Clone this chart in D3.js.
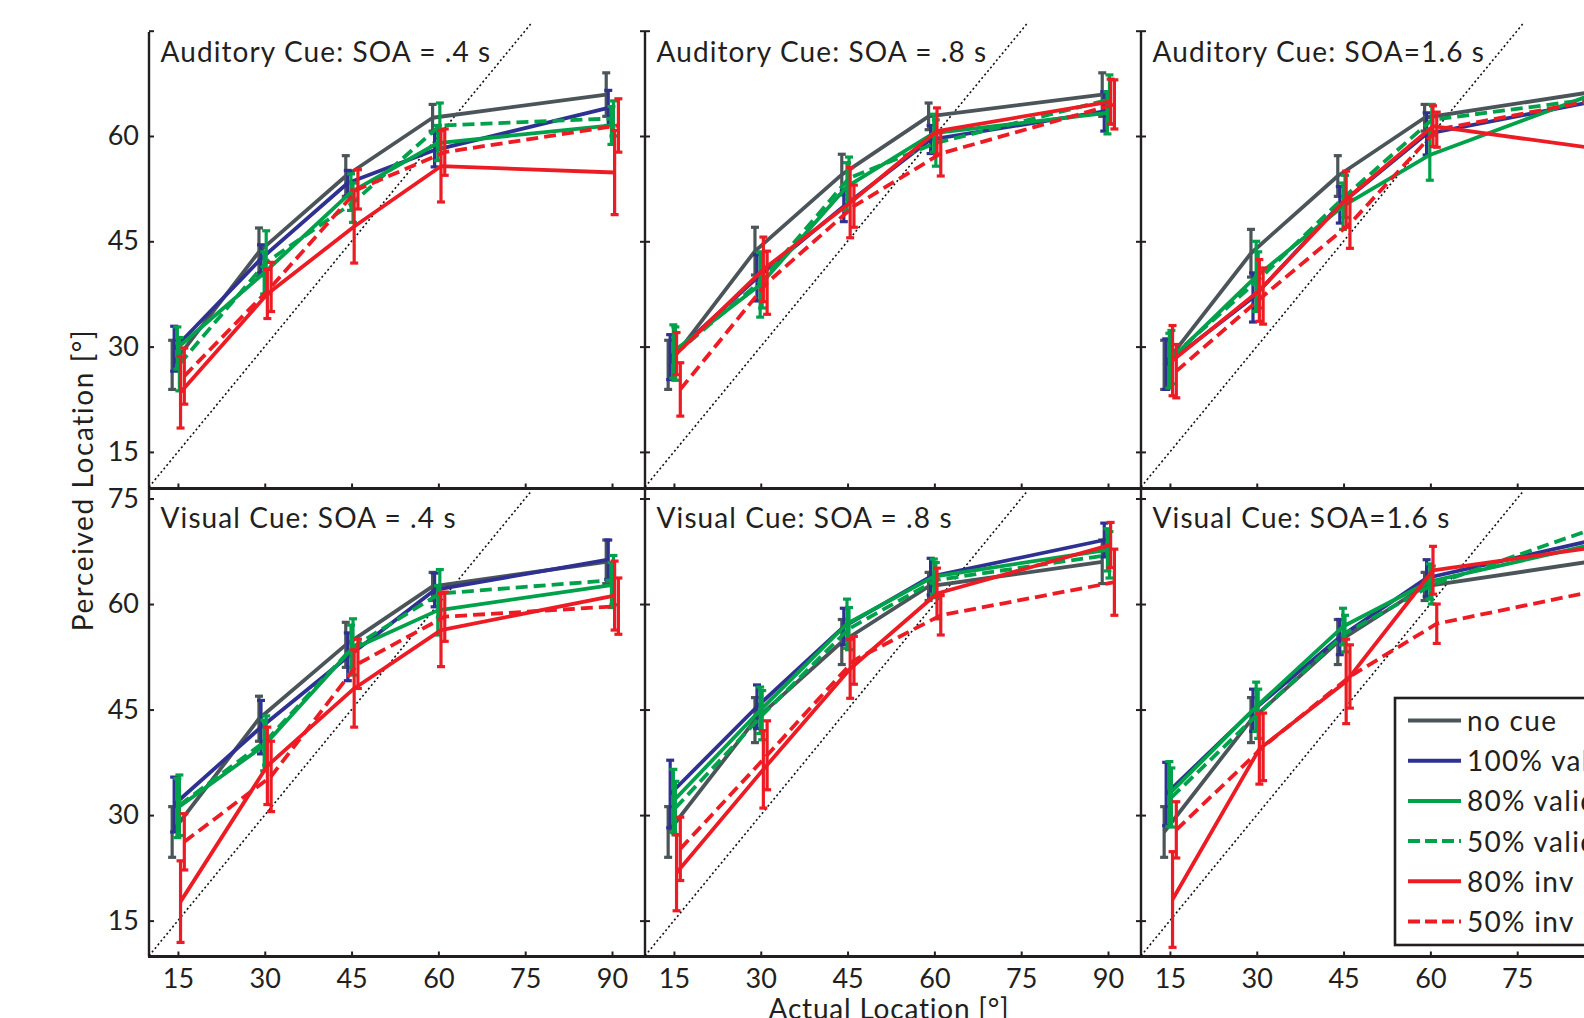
<!DOCTYPE html>
<html><head><meta charset="utf-8">
<script src="https://cdn.jsdelivr.net/npm/d3@7"></script>
<style>
html,body{margin:0;padding:0;background:#fff;overflow:hidden}
text{font-family:Lato,"Open Sans",sans-serif;fill:#231f20}
</style></head><body>
<svg id="chart" width="1584" height="1018"></svg>
<script>
// ---------------- data ----------------
const xValues = [15, 30, 45, 60, 90];
const xTicks = [15, 30, 45, 60, 75, 90];
const yTicks = [15, 30, 45, 60, 75];
const seriesNames = ["no cue", "100% valid", "80% valid", "50% valid", "80% inv", "50% inv"];
const panelTitles = [
  "Auditory Cue: SOA = .4 s", "Auditory Cue: SOA = .8 s", "Auditory Cue: SOA=1.6 s",
  "Visual Cue: SOA = .4 s", "Visual Cue: SOA = .8 s", "Visual Cue: SOA=1.6 s"
];
// per panel: rows = series (no cue, 100% valid, 80% valid, 50% valid, 80% inv, 50% inv)
const audSoa04Mean = [
  [27.4, 43.5, 54.3, 62.6, 65.9],
  [29.7, 42.5, 53.3, 58.0, 64.0],
  [29.8, 40.5, 52.0, 59.0, 61.5],
  [27.5, 42.0, 50.5, 61.5, 62.5],
  [23.5, 37.5, 47.1, 55.7, 54.8],
  [25.8, 38.5, 52.4, 57.7, 61.5]
];
const audSoa04Err = [
  [3.5, 3.4, 2.9, 1.9, 3.1],
  [3.2, 2.0, 1.8, 2.4, 2.5],
  [3.0, 3.0, 2.6, 2.5, 2.7],
  [3.8, 4.5, 2.8, 3.2, 2.5],
  [5.1, 3.5, 5.2, 5.1, 6.0],
  [4.0, 3.5, 2.8, 3.3, 3.8]
];
const audSoa08Mean = [
  [27.4, 43.6, 54.5, 62.8, 65.9],
  [28.5, 39.8, 50.0, 59.5, 63.5],
  [29.3, 38.8, 52.8, 60.4, 63.3],
  [29.0, 39.5, 54.0, 59.0, 65.2],
  [29.0, 41.0, 50.5, 60.7, 64.9],
  [23.9, 39.1, 50.0, 57.5, 64.5]
];
const audSoa08Err = [
  [3.5, 3.4, 2.9, 1.9, 3.1],
  [3.2, 3.3, 2.2, 2.0, 2.8],
  [3.8, 4.6, 3.4, 2.7, 3.0],
  [3.8, 4.0, 3.0, 3.3, 3.5],
  [3.0, 4.6, 5.0, 3.3, 3.2],
  [3.8, 4.5, 3.0, 3.2, 3.5]
];
const audSoa16Mean = [
  [27.4, 43.3, 54.3, 62.6, 66.4],
  [27.5, 37.0, 50.2, 60.3, 65.1],
  [28.0, 40.0, 50.0, 57.3, 66.5],
  [28.5, 39.5, 51.4, 62.3, 65.5],
  [28.0, 38.0, 51.0, 61.4, 58.0],
  [26.5, 37.2, 47.5, 60.9, 65.5]
];
const audSoa16Err = [
  [3.5, 3.4, 2.9, 1.9, 3.1],
  [3.6, 3.5, 2.6, 3.0, 2.5],
  [3.9, 5.0, 3.3, 3.6, 3.0],
  [3.8, 4.0, 3.0, 2.2, 3.0],
  [5.0, 4.4, 4.0, 2.9, 4.0],
  [3.8, 4.0, 3.5, 2.5, 3.0]
];
const visSoa04Mean = [
  [27.6, 43.7, 54.2, 62.5, 66.0],
  [31.5, 42.5, 52.5, 62.0, 66.3],
  [31.0, 39.9, 53.5, 59.1, 62.7],
  [31.4, 40.6, 53.9, 61.5, 63.4],
  [17.7, 37.0, 48.0, 56.3, 61.2],
  [26.2, 35.5, 51.5, 58.2, 59.7]
];
const visSoa04Err = [
  [3.6, 3.2, 3.2, 2.0, 3.1],
  [3.9, 3.8, 3.4, 2.4, 2.8],
  [4.2, 3.6, 3.5, 3.5, 3.2],
  [4.3, 3.5, 4.0, 3.4, 3.5],
  [5.8, 5.5, 5.5, 5.2, 4.9],
  [4.0, 5.0, 3.5, 3.5, 4.0]
];
const visSoa08Mean = [
  [27.6, 43.5, 54.6, 62.5, 66.0],
  [33.0, 45.4, 56.8, 63.9, 69.1],
  [32.0, 44.9, 57.2, 63.9, 67.7],
  [31.0, 44.2, 56.5, 63.4, 67.0],
  [21.8, 36.5, 50.8, 61.5, 68.4],
  [25.2, 38.5, 52.0, 58.4, 63.1]
];
const visSoa08Err = [
  [3.6, 3.2, 3.2, 2.0, 3.1],
  [4.8, 3.1, 2.6, 2.6, 2.4],
  [4.5, 3.3, 3.5, 2.5, 3.0],
  [3.8, 3.5, 3.0, 2.5, 3.3],
  [5.4, 5.5, 4.2, 3.6, 3.2],
  [4.5, 4.9, 3.4, 2.8, 4.7]
];
const visSoa16Mean = [
  [27.6, 43.5, 54.6, 62.5, 66.2],
  [33.0, 44.9, 55.3, 63.7, 69.3],
  [33.0, 45.4, 56.8, 63.2, 68.8],
  [32.5, 44.4, 55.8, 62.7, 71.3],
  [18.0, 39.4, 49.0, 64.8, 68.3],
  [27.9, 39.7, 49.7, 57.2, 62.3]
];
const visSoa16Err = [
  [3.6, 3.2, 3.2, 2.0, 3.1],
  [4.5, 3.0, 2.5, 2.6, 2.5],
  [4.6, 3.5, 2.6, 2.5, 3.0],
  [4.2, 3.5, 2.6, 2.7, 3.0],
  [6.8, 5.0, 6.0, 3.4, 3.5],
  [4.0, 4.8, 4.5, 2.8, 3.5]
];

// ---------------- styling ----------------
const seriesColors = ["#4b5559", "#2e3192", "#00a14b", "#00a14b", "#ed1c24", "#ed1c24"];
const seriesDashed = [false, false, false, true, false, true];
const seriesOffset = [-1.0, -0.65, -0.1, 0.25, 0.45, 1.1]; // small horizontal jitter (data units)

const panels = [
  {title: panelTitles[0], mean: audSoa04Mean, err: audSoa04Err, row: 0, col: 0},
  {title: panelTitles[1], mean: audSoa08Mean, err: audSoa08Err, row: 0, col: 1},
  {title: panelTitles[2], mean: audSoa16Mean, err: audSoa16Err, row: 0, col: 2},
  {title: panelTitles[3], mean: visSoa04Mean, err: visSoa04Err, row: 1, col: 0},
  {title: panelTitles[4], mean: visSoa08Mean, err: visSoa08Err, row: 1, col: 1},
  {title: panelTitles[5], mean: visSoa16Mean, err: visSoa16Err, row: 1, col: 2}
];

const svg = d3.select("#chart");
const ink = "#231f20";
const colLeft = [149, 645, 1141];
const colW = 496;
const rowY = [
  d3.scaleLinear().domain([10, 75]).range([487, 30.7]),
  d3.scaleLinear().domain([10, 75]).range([955.8, 498.5])
];
const rowBottom = [488.5, 956.5];
const rowTop = [32, 488.5];
const xScales = colLeft.map(l => d3.scaleLinear().domain([10, 95.7]).range([l, l + colW]));

// ---------- frame lines ----------
const frame = svg.append("g");
[0, 1].forEach(r => {
  colLeft.forEach(l => {
    frame.append("line").attr("x1", l).attr("x2", l)
      .attr("y1", rowTop[r]).attr("y2", rowBottom[r])
      .attr("stroke", ink).attr("stroke-width", 2.4);
  });
  frame.append("line").attr("x1", colLeft[0] - 1).attr("x2", 1584)
    .attr("y1", rowBottom[r]).attr("y2", rowBottom[r])
    .attr("stroke", ink).attr("stroke-width", 2.8);
});

// ---------- panels ----------
panels.forEach(p => {
  const x = xScales[p.col];
  const y = rowY[p.row];
  const g = svg.append("g");

  // ticks
  const left = d3.axisLeft(y).tickValues(yTicks).tickSizeInner(-5).tickSizeOuter(0).tickPadding(10)
    .tickFormat(d => (p.col === 0 && !(p.row === 0 && d === 75)) ? d : "");
  const la = g.append("g").attr("transform", `translate(${x.range()[0]},0)`).call(left);
  const right = d3.axisRight(y).tickValues(yTicks).tickSizeInner(-5).tickSizeOuter(0).tickFormat("");
  const ra = g.append("g").attr("transform", `translate(${x.range()[1]},0)`).call(right);
  const bottom = d3.axisBottom(x).tickValues(xTicks).tickSizeInner(-5).tickSizeOuter(0).tickPadding(12)
    .tickFormat(d => p.row === 1 ? d : "");
  const ba = g.append("g").attr("transform", `translate(0,${rowBottom[p.row]})`).call(bottom);
  [la, ra, ba].forEach(a => {
    a.select(".domain").remove();
    a.selectAll(".tick line").attr("stroke", ink).attr("stroke-width", 2);
    a.selectAll(".tick text").attr("font-size", 27).attr("font-family", "Lato, 'Open Sans', sans-serif").attr("fill", ink);
  });

  // unity diagonal
  g.append("line")
    .attr("x1", x(10)).attr("y1", y(10)).attr("x2", x(76)).attr("y2", y(76))
    .attr("stroke", "#111").attr("stroke-width", 1.6).attr("stroke-dasharray", "2,2.6");

  // series
  const line = d3.line().x(d => x(d.x)).y(d => y(d.m));
  p.mean.forEach((vals, s) => {
    const pts = vals.map((m, i) => ({x: xValues[i] + seriesOffset[s], m: m, e: p.err[s][i]}));
    const sg = g.append("g");
    sg.append("path").datum(pts).attr("d", line).attr("fill", "none")
      .attr("stroke", seriesColors[s]).attr("stroke-width", 3.8)
      .attr("stroke-linejoin", "round")
      .attr("stroke-dasharray", seriesDashed[s] ? "12,6" : null);
    const eb = sg.selectAll("g.eb").data(pts).join("g");
    eb.append("line").attr("x1", d => x(d.x)).attr("x2", d => x(d.x))
      .attr("y1", d => y(d.m - d.e)).attr("y2", d => y(d.m + d.e))
      .attr("stroke", seriesColors[s]).attr("stroke-width", 3.2);
    [-1, 1].forEach(sign => {
      eb.append("line").attr("x1", d => x(d.x) - 4).attr("x2", d => x(d.x) + 4)
        .attr("y1", d => y(d.m + sign * d.e)).attr("y2", d => y(d.m + sign * d.e))
        .attr("stroke", seriesColors[s]).attr("stroke-width", 3.2);
    });
  });

  // title
  g.append("text").attr("x", x.range()[0] + 11.5).attr("y", p.row === 0 ? 61.5 : 527.5)
    .attr("font-size", 28).attr("letter-spacing", 1.1).text(p.title);
});

// ---------- axis titles ----------
svg.append("text").attr("transform", "translate(93,480) rotate(-90)")
  .attr("text-anchor", "middle").attr("font-size", 28).attr("letter-spacing", 1.6)
  .text("Perceived Location [°]");
svg.append("text").attr("x", 889).attr("y", 1019).attr("text-anchor", "middle")
  .attr("font-size", 28).attr("letter-spacing", 0.8).text("Actual Location [°]");

// ---------- legend ----------
const lg = svg.append("g");
lg.append("rect").attr("x", 1395).attr("y", 698).attr("width", 260).attr("height", 247)
  .attr("fill", "#fff").attr("stroke", ink).attr("stroke-width", 2.6);
const legendY = d3.scalePoint().domain(seriesNames).range([720.5, 921.5]);
seriesNames.forEach((name, s) => {
  const yy = legendY(name);
  lg.append("line").attr("x1", 1408).attr("x2", 1461).attr("y1", yy).attr("y2", yy)
    .attr("stroke", seriesColors[s]).attr("stroke-width", 4)
    .attr("stroke-dasharray", seriesDashed[s] ? "12,5" : null);
  lg.append("text").attr("x", 1467).attr("y", yy + 10.5).attr("font-size", 28)
    .attr("letter-spacing", 1.3).text(name);
});
</script>
</body></html>
